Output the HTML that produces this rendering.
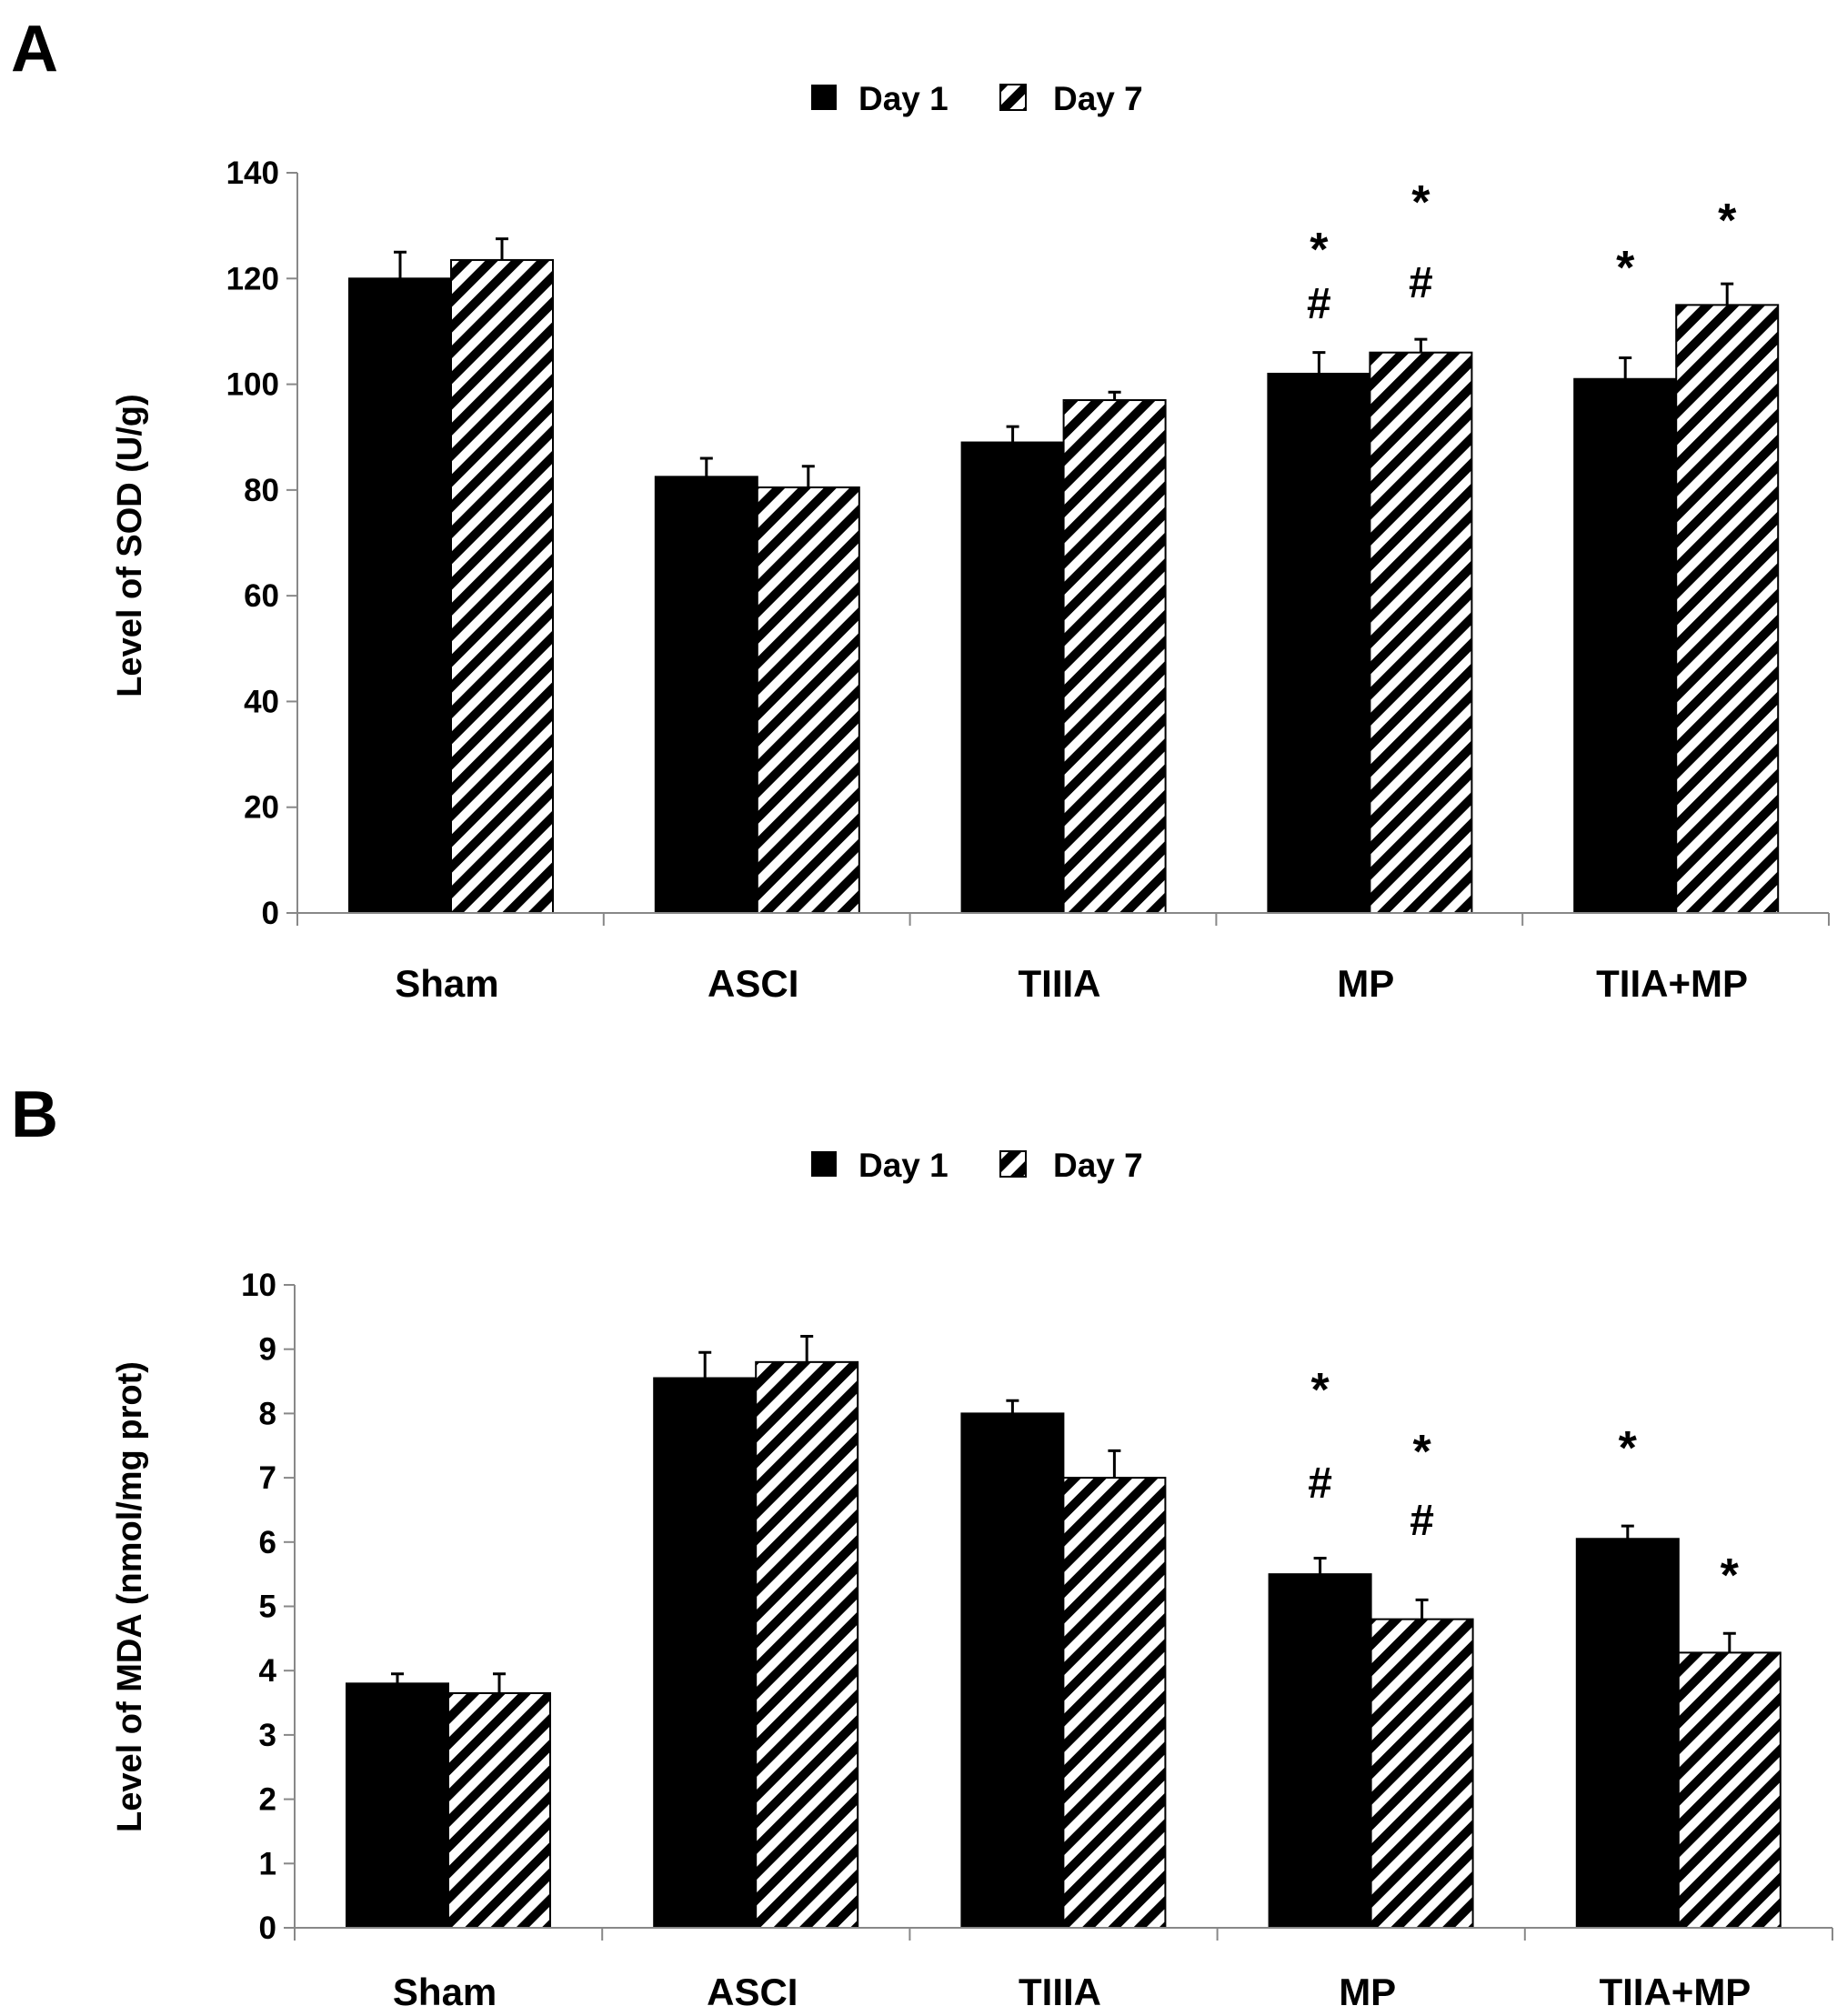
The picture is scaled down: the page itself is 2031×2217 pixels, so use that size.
<!DOCTYPE html>
<html><head><meta charset="utf-8"><style>
html,body{margin:0;padding:0;background:#fff;}
svg{display:block;font-family:"Liberation Sans",sans-serif;}
</style></head><body>
<svg id="fig" width="2031" height="2217" viewBox="0 0 2031 2217" xmlns="http://www.w3.org/2000/svg">
<defs>
<pattern id="hatch" patternUnits="userSpaceOnUse" width="20" height="20" patternTransform="rotate(45)">
<rect width="20" height="20" fill="#fff"/>
<rect x="0" y="0" width="10" height="20" fill="#000"/>
</pattern>
</defs>
<g id="gA"></g>
<g id="gB"></g>
</svg>
<script>
const categories = ["Sham","ASCI","TIIIA","MP","TIIA+MP"];
const sodDay1 = [120, 82.5, 89, 102, 101];
const sodDay1Err = [5, 3.5, 3, 4, 4];
const sodDay7 = [123.5, 80.5, 97, 106, 115];
const sodDay7Err = [4, 4, 1.5, 2.5, 4];
const sodTicks = [0,20,40,60,80,100,120,140];
const mdaDay1 = [3.8, 8.55, 8.0, 5.5, 6.05];
const mdaDay1Err = [0.15, 0.4, 0.2, 0.25, 0.2];
const mdaDay7 = [3.65, 8.8, 7.0, 4.8, 4.28];
const mdaDay7Err = [0.3, 0.4, 0.42, 0.3, 0.3];
const mdaTicks = [0,1,2,3,4,5,6,7,8,9,10];
const sodMarks = [[[],[]],[[],[]],[[],[]],[["*","#"],["*","#"]],[["*"],["*"]]];
const mdaMarks = [[[],[]],[[],[]],[[],[]],[["*","#"],["*","#"]],[["*"],["*"]]];

const NS="http://www.w3.org/2000/svg";
function mk(parent,tag,attrs,text){const e=document.createElementNS(NS,tag);for(const k in attrs)e.setAttribute(k,attrs[k]);if(text!==undefined)e.textContent=text;parent.appendChild(e);return e;}

function panel(g,cfg){
  const {letter,letterY,legendY,x0,y0,yTop,max,ticks,d1,e1,d7,e7,title,titleY,catY,marks,markPos,xEnd}=cfg;
  const catW=(xEnd-x0)/5, barW=112, off=57;
  const yS=v=>y0-(v/max)*(y0-yTop);
  let t=mk(g,'text',{x:12,y:letterY,'font-size':72,'font-weight':'bold'},letter);
  
  
  const lg=mk(g,'g',{});
  
  
  let r=mk(lg,'rect',{x:892,y:legendY-16,width:28,height:28,fill:'#000'});
  
  
  t=mk(lg,'text',{x:944,y:legendY+12,'font-size':37,'font-weight':'bold'},'Day 1');
  
  
  r=mk(lg,'rect',{x:1100,y:legendY-16,width:28,height:28,fill:'url(#hatch)',stroke:'#000','stroke-width':2});
  
  
  t=mk(lg,'text',{x:1158,y:legendY+12,'font-size':37,'font-weight':'bold'},'Day 7');
  
  
  for(let i=0;i<5;i++){
    const bx=x0+i*catW+off;
    [[d1,e1,'#000','day1'],[d7,e7,'url(#hatch)','day7']].forEach((s,j)=>{
      const v=s[0][i],e=s[1][i],x=bx+j*barW,cx=x+barW/2;
      const b=mk(g,'rect',{x:x,y:yS(v),width:barW,height:y0-yS(v),fill:s[2],stroke:'#000','stroke-width':2});
      
      
      const eb=mk(g,'path',{d:`M${cx},${yS(v)} V${yS(v+e)} M${cx-7},${yS(v+e)} H${cx+7}`,stroke:'#000','stroke-width':3,fill:'none'});
      
      
      const m=marks[i][j];
      m.forEach((lab,k)=>{
        const yy=markPos[i][j][k];
        const a=mk(g,'text',{x:cx,y:yy,'text-anchor':'middle','font-size':lab==='*'?52:48,'font-weight':'bold'},lab);
        
        
      });
    });
    const cl=mk(g,'text',{x:x0+i*catW+catW/2-4,y:catY,'text-anchor':'middle','font-size':42,'font-weight':'bold'},categories[i]);
    
    
  }
  const ax=mk(g,'path',{d:`M${x0},${yTop} V${y0} H${xEnd}`,stroke:'#888','stroke-width':2,fill:'none'});
  
  
  for(let i=0;i<=5;i++){
    const tk=mk(g,'line',{x1:x0+i*catW,x2:x0+i*catW,y1:y0,y2:y0+14,stroke:'#888','stroke-width':2});
    
    
  }
  ticks.forEach(v=>{
    const tk=mk(g,'line',{x1:x0-12,x2:x0,y1:yS(v),y2:yS(v),stroke:'#888','stroke-width':2});
    
    
    const tl=mk(g,'text',{x:x0-20,y:yS(v)+12,'text-anchor':'end','font-size':35,'font-weight':'bold'},String(v));
    
    
  });
  const yt=mk(g,'text',{x:0,y:0,transform:`translate(155,${titleY}) rotate(-90)`,'text-anchor':'middle','font-size':38,'font-weight':'bold'},title);
  
  
}
panel(document.getElementById('gA'),{letter:'A',letterY:78,legendY:109,x0:327,y0:1004,yTop:190,max:140,ticks:sodTicks,
  d1:sodDay1,e1:sodDay1Err,d7:sodDay7,e7:sodDay7Err,title:'Level of SOD (U/g)',titleY:600,catY:1096,xEnd:2011,
  marks:sodMarks,markPos:[[[],[]],[[],[]],[[],[]],[[292,350],[240,327]],[[312],[260]]]});
panel(document.getElementById('gB'),{letter:'B',letterY:1250,legendY:1282,x0:324,y0:2120,yTop:1413,max:10,ticks:mdaTicks,
  d1:mdaDay1,e1:mdaDay1Err,d7:mdaDay7,e7:mdaDay7Err,title:'Level of MDA (nmol/mg prot)',titleY:1756,catY:2205,xEnd:2015,
  marks:mdaMarks,markPos:[[[],[]],[[],[]],[[],[]],[[1546,1647],[1614,1688]],[[1610],[1750]]]});
</script>
</body></html>
